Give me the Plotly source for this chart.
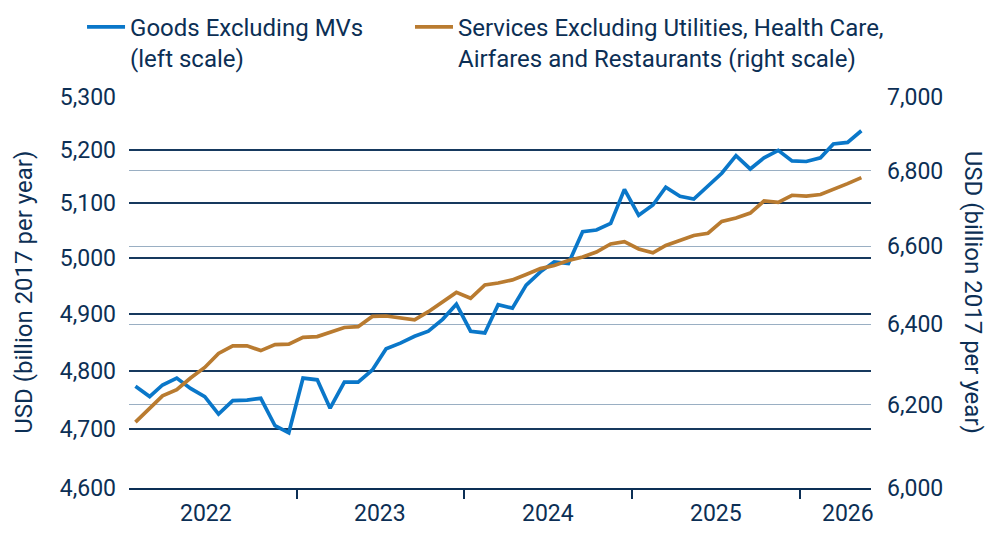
import math
import pandas as pd
import plotly.graph_objects as go

# ---- data (monthly, Jan 2022 - May 2026) ----
months = pd.date_range("2022-01-01", periods=53, freq="MS") + pd.Timedelta(days=14)

goods_ex_mv = [
    4773, 4755, 4775, 4787, 4769, 4755, 4725, 4748, 4749, 4752,
    4705, 4693, 4787, 4784, 4735, 4780, 4780, 4801, 4838, 4848,
    4860, 4869, 4890, 4917, 4869, 4866, 4916, 4910, 4951, 4975,
    4993, 4990, 5048, 5051, 5063, 5126, 5078, 5097, 5130, 5113,
    5108, 5132, 5156, 5189, 5164, 5185, 5199, 5179, 5178, 5185,
    5211, 5214, 5236,
]
services_ex = [
    6158, 6192, 6222, 6237, 6266, 6292, 6327, 6346, 6346, 6334,
    6349, 6350, 6367, 6369, 6381, 6392, 6394, 6420, 6421, 6416,
    6411, 6432, 6456, 6481, 6466, 6500, 6505, 6513, 6527, 6542,
    6550, 6563, 6572, 6585, 6606, 6612, 6593, 6583, 6602, 6615,
    6628, 6634, 6665, 6674, 6687, 6719, 6715, 6734, 6732, 6736,
    6749, 6765, 6781,
]

left_ticks = [4600, 4700, 4800, 4900, 5000, 5100, 5200, 5300]
right_ticks = [6000, 6200, 6400, 6600, 6800, 7000]
year_boundaries = ["2023-01-01", "2024-01-01", "2025-01-01", "2026-01-01"]
year_labels = ["2022", "2023", "2024", "2025", "2026"]
year_label_pos = ["2022-06-18", "2023-07-02", "2024-07-02", "2025-07-02", "2026-04-16"]

NAVY = "#0c2f55"
BLUE = "#0a77c9"
BROWN = "#b97b30"
FONT = "Roboto"

fig = go.Figure()
fig.add_trace(go.Scatter(
    x=months, y=goods_ex_mv, mode="lines", yaxis="y", legend="legend",
    name="Goods Excluding MVs<br>(left scale)",
    line=dict(color=BLUE, width=3.7),
))
fig.add_trace(go.Scatter(
    x=months, y=services_ex, mode="lines", yaxis="y2", legend="legend2",
    name="Services Excluding Utilities, Health Care,<br>Airfares and Restaurants (right scale)",
    line=dict(color=BROWN, width=3.7),
))

legend_common = dict(
    orientation="h", yanchor="top", y=1.236, xanchor="left",
    valign="top", font=dict(family=FONT, size=24, color=NAVY),
    bgcolor="rgba(0,0,0,0)", itemwidth=38, tracegroupgap=0,
)

fig.update_layout(
    width=1000, height=540,
    margin=dict(l=129, r=129, t=97, b=52, autoexpand=False),
    plot_bgcolor="white", paper_bgcolor="white",
    font=dict(family=FONT, size=23, color=NAVY),
    showlegend=True,
    legend=dict(x=-0.0633, **legend_common),
    legend2=dict(x=0.3787, **legend_common),
    xaxis=dict(
        type="date", range=["2022-01-01", "2026-06-05"],
        tickvals=year_boundaries, showticklabels=False,
        ticks="outside", ticklen=9, tickwidth=2, tickcolor=NAVY,
        showgrid=False, showline=True, linecolor=NAVY, linewidth=2,
        zeroline=False,
    ),
    yaxis=dict(
        type="log", range=[math.log10(4600), math.log10(5300.5)],
        tickvals=left_ticks, ticktext=[f"{v:,}" for v in left_ticks],
        showgrid=True, gridcolor="#16395e", gridwidth=1.5,
        ticks="", ticklabelstandoff=12, zeroline=False,
        tickfont=dict(family=FONT, size=23, color=NAVY),
    ),
    yaxis2=dict(
        type="log", range=[math.log10(6000), math.log10(7000)],
        overlaying="y", side="right",
        tickvals=right_ticks, ticktext=[f"{v:,}" for v in right_ticks],
        showgrid=True, gridcolor="#9aafc3", gridwidth=1,
        ticks="", ticklabelstandoff=15, zeroline=False,
        tickfont=dict(family=FONT, size=23, color=NAVY),
    ),
)

# year labels centred under each year
for pos, lab in zip(year_label_pos, year_labels):
    fig.add_annotation(x=pos, y=0, xref="x", yref="paper", text=lab,
                       showarrow=False, yanchor="middle", yshift=-25,
                       font=dict(family=FONT, size=23, color=NAVY))

# axis titles
fig.add_annotation(x=-0.164, y=0.5, xref="paper", yref="paper",
                   text="USD (billion 2017 per year)", textangle=-90,
                   showarrow=False, font=dict(family=FONT, size=24, color=NAVY))
fig.add_annotation(x=1.16, y=0.5, xref="paper", yref="paper",
                   text="USD (billion 2017 per year)", textangle=90,
                   showarrow=False, font=dict(family=FONT, size=24, color=NAVY))

fig.write_html("out.html")
